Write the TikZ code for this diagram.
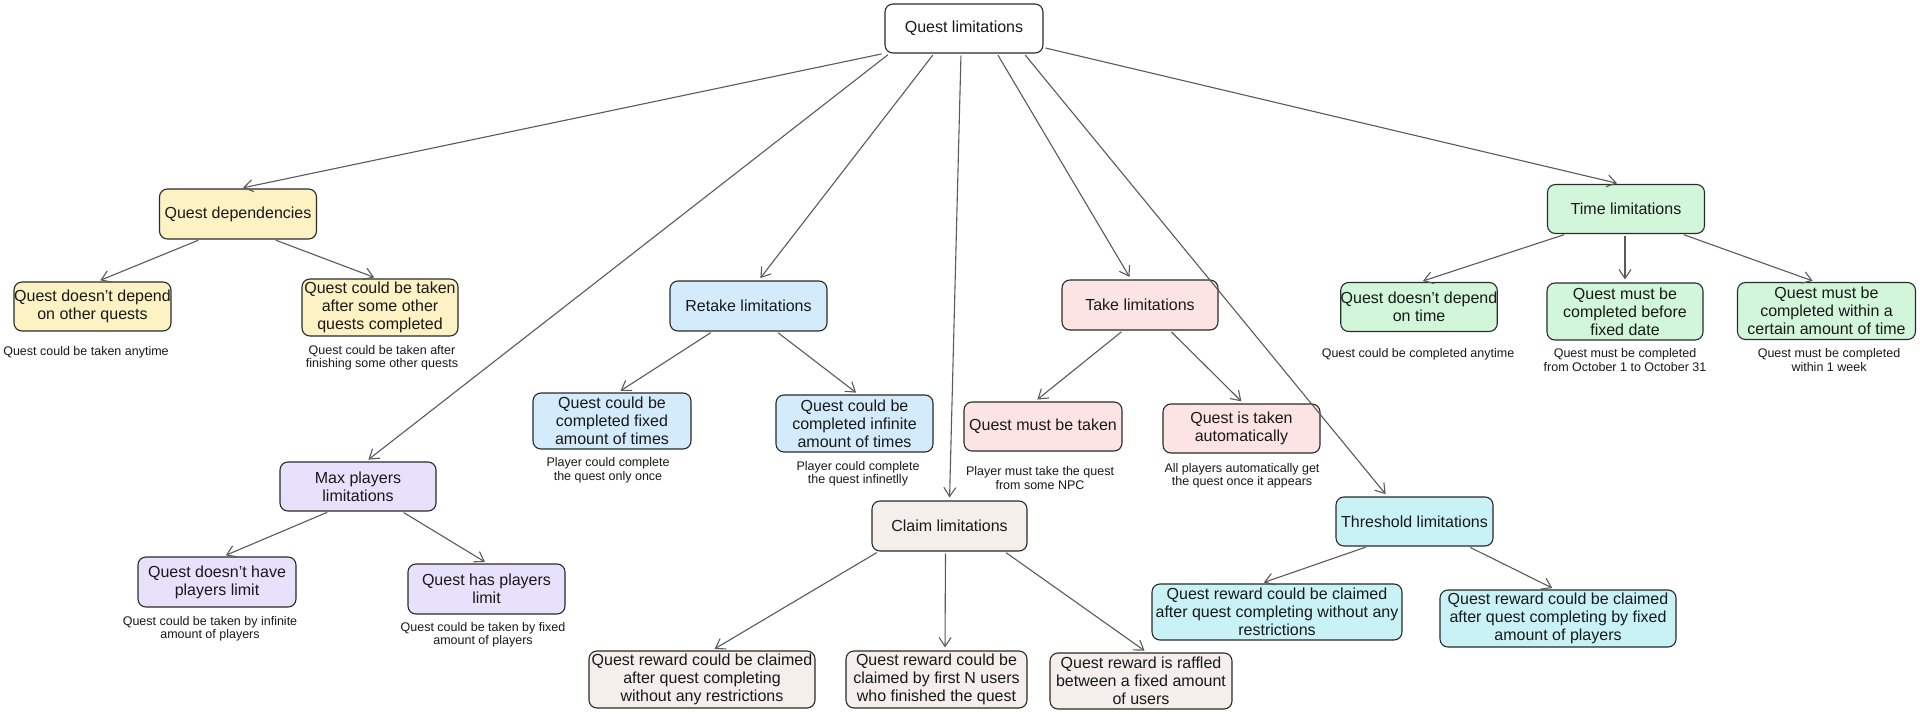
\documentclass[tikz,border=0pt]{standalone}
\usepackage{fontspec}
\setmainfont{Liberation Sans}
\usetikzlibrary{arrows.meta,calc}
\definecolor{cyel}{HTML}{FDF2C4}
\definecolor{cblu}{HTML}{D3EBFB}
\definecolor{cpnk}{HTML}{FDE4E4}
\definecolor{cgrn}{HTML}{D2F6DA}
\definecolor{cpur}{HTML}{E8E1FC}
\definecolor{cbei}{HTML}{F4EFEA}
\definecolor{ccyn}{HTML}{C9F2F7}
\definecolor{cline}{HTML}{2A2A2A}
\definecolor{carr}{HTML}{5A5A5A}
\newcommand{\boxfont}{\fontsize{16}{18}\selectfont}
\newcommand{\notefont}{\fontsize{12.5}{13.5}\selectfont}
\tikzset{
  qbox/.style={draw=cline, line width=1.1pt, rounded corners=8pt, align=center, inner sep=0pt, font=\boxfont, text=black!90},
  qnote/.style={align=center, inner sep=0pt, font=\notefont, text=black!90},
  qarr/.style={draw=carr, line width=1.1pt, -{Straight Barb[length=9pt,width=12pt,line width=1.1pt]}, shorten <=2pt, shorten >=3pt},
}
\begin{document}
\begin{tikzpicture}[x=1pt,y=-1pt]
\useasboundingbox (0,0) rectangle (1920,714);
\fill[white] (0,0) rectangle (1920,714);

% root
\node[qbox, fill=white, minimum width=158, minimum height=49] (root) at (964,28.5) {Quest limitations};

% dependencies
\node[qbox, fill=cyel, minimum width=157, minimum height=50] (dep) at (238,214) {Quest dependencies};
\node[qbox, fill=cyel, minimum width=157, minimum height=49] (depA) at (92.5,306.5) {Quest doesn't depend\\on other quests};
\node[qbox, fill=cyel, minimum width=156, minimum height=57] (depB) at (380,307.5) {Quest could be taken\\after some other\\quests completed};
\node[qnote] (ndepA) at (86,352) {Quest could be taken anytime};
\node[qnote] (ndepB) at (382,358) {Quest could be taken after\\finishing some other quests};

% retake
\node[qbox, fill=cblu, minimum width=157, minimum height=50] (ret) at (748.5,306) {Retake limitations};
\node[qbox, fill=cblu, minimum width=158, minimum height=56] (retA) at (612,421) {Quest could be\\completed fixed\\amount of times};
\node[qbox, fill=cblu, minimum width=157, minimum height=57] (retB) at (854.5,423.5) {Quest could be\\completed infinite\\amount of times};
\node[qnote] (nretA) at (608,470.5) {Player could complete\\the quest only once};
\node[qnote] (nretB) at (858,474) {Player could complete\\the quest infinetlly};

% take
\node[qbox, fill=cpnk, minimum width=156, minimum height=50] (take) at (1140,305) {Take limitations};
\node[qbox, fill=cpnk, minimum width=158, minimum height=49] (takeA) at (1043,426.5) {Quest must be taken};
\node[qbox, fill=cpnk, minimum width=157, minimum height=49] (takeB) at (1241.5,428.5) {Quest is taken\\automatically};
\node[qnote] (ntakeA) at (1040,478) {Player must take the quest\\from some NPC};
\node[qnote] (ntakeB) at (1242,476) {All players automatically get\\the quest once it appears};

% time
\node[qbox, fill=cgrn, minimum width=157, minimum height=49] (time) at (1626,209) {Time limitations};
\node[qbox, fill=cgrn, minimum width=154, minimum height=49] (timeA) at (1419,307) {Quest doesn't depend\\on time};
\node[qbox, fill=cgrn, minimum width=156, minimum height=57] (timeB) at (1625,311.5) {Quest must be\\completed before\\fixed date};
\node[qbox, fill=cgrn, minimum width=178, minimum height=57] (timeC) at (1826.5,311) {Quest must be\\completed within a\\certain amount of time};
\node[qnote] (ntimeA) at (1418,354) {Quest could be completed anytime};
\node[qnote] (ntimeB) at (1625,360) {Quest must be completed\\from October 1 to October 31};
\node[qnote] (ntimeC) at (1829,360) {Quest must be completed\\within 1 week};

% max players
\node[qbox, fill=cpur, minimum width=156, minimum height=49] (maxp) at (358,486.5) {Max players\\limitations};
\node[qbox, fill=cpur, minimum width=158, minimum height=50] (maxA) at (217,582) {Quest doesn't have\\players limit};
\node[qbox, fill=cpur, minimum width=157, minimum height=50] (maxB) at (486.5,589) {Quest has players\\limit};
\node[qnote] (nmaxA) at (210,629) {Quest could be taken by infinite\\amount of players};
\node[qnote] (nmaxB) at (483,635) {Quest could be taken by fixed\\amount of players};

% claim
\node[qbox, fill=cbei, minimum width=155, minimum height=50] (claim) at (949.5,526) {Claim limitations};
\node[qbox, fill=cbei, minimum width=226, minimum height=57] (claimA) at (702,679.5) {Quest reward could be claimed\\after quest completing\\without any restrictions};
\node[qbox, fill=cbei, minimum width=181, minimum height=57] (claimB) at (936.5,679.5) {Quest reward could be\\claimed by first N users\\who finished the quest};
\node[qbox, fill=cbei, minimum width=182, minimum height=56] (claimC) at (1141,681) {Quest reward is raffled\\between a fixed amount\\of users};

% threshold
\node[qbox, fill=ccyn, minimum width=157, minimum height=49] (thr) at (1414.5,521.5) {Threshold limitations};
\node[qbox, fill=ccyn, minimum width=250, minimum height=56] (thrA) at (1277,612) {Quest reward could be claimed\\after quest completing without any\\restrictions};
\node[qbox, fill=ccyn, minimum width=236, minimum height=57] (thrB) at (1558,618.5) {Quest reward could be claimed\\after quest completing by fixed\\amount of players};

% arrows from root
\draw[qarr] ([xshift=-1pt]root.south west) -- ([xshift=2pt]dep.north);
\draw[qarr] ([xshift=5pt]root.south west) -- ([xshift=8pt]maxp.north);
\draw[qarr] ([xshift=-30pt]root.south) -- ([xshift=10pt]ret.north);
\draw[qarr] ([xshift=-3pt]root.south) -- (claim.north);
\draw[qarr] ([xshift=33pt]root.south) -- ([xshift=-9pt]take.north);
\draw[qarr] ([xshift=60pt]root.south) -- ([xshift=-27pt]thr.north);
\draw[qarr] ([yshift=6pt]root.south east) -- ([xshift=-6pt]time.north);

% dependencies children
\draw[qarr] ([xshift=-38pt]dep.south) -- ([xshift=5pt]depA.north);
\draw[qarr] ([xshift=36pt]dep.south) -- ([xshift=-3pt]depB.north);
% retake children
\draw[qarr] ([xshift=-36pt]ret.south) -- ([xshift=6pt]retA.north);
\draw[qarr] ([xshift=28pt]ret.south) -- ([xshift=4pt]retB.north);
% take children
\draw[qarr] ([xshift=-17pt]take.south) -- ([xshift=-8pt]takeA.north);
\draw[qarr] ([xshift=30pt]take.south) -- ([xshift=2pt]takeB.north);
% time children
\draw[qarr] ([xshift=-60pt]time.south) -- ([xshift=1pt]timeA.north);
\draw[qarr] ([xshift=-1pt]time.south) -- (timeB.north);
\draw[qarr] ([xshift=56pt]time.south) -- ([xshift=-11pt]timeC.north);
% max players children
\draw[qarr] ([xshift=-29pt]maxp.south) -- ([xshift=6pt]maxA.north);
\draw[qarr] ([xshift=44pt]maxp.south) -- ([xshift=1pt]maxB.north);
% claim children
\draw[qarr] ([xshift=-71pt]claim.south) -- ([xshift=10pt]claimA.north);
\draw[qarr] ([xshift=-4pt]claim.south) -- ([xshift=8.5pt]claimB.north);
\draw[qarr] ([xshift=55pt]claim.south) -- ([xshift=6pt]claimC.north);
% threshold children
\draw[qarr] ([xshift=-47pt]thr.south) -- ([xshift=-16pt]thrA.north);
\draw[qarr] ([xshift=54pt]thr.south) -- ([xshift=-3pt]thrB.north);
\end{tikzpicture}
\end{document}
